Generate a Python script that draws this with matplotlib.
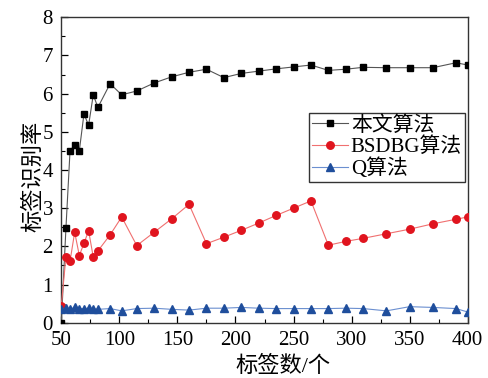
import matplotlib
matplotlib.use("Agg")
import matplotlib.pyplot as plt
from matplotlib.ticker import MultipleLocator

plt.rcParams['font.family'] = ['Liberation Serif', 'Noto Sans CJK SC']
plt.rcParams['mathtext.fontset'] = 'stix'

# Tag counts and identification rates for each algorithm
tags_ours = [50, 54, 57.5, 61.5, 65.5, 69.5, 73.5, 77.5, 81.5, 92, 102, 115, 130, 145,
             160, 175, 190, 205, 220, 235, 250, 265, 280, 295, 310, 330, 350, 370, 390, 400]
rate_ours = [0.0, 2.49, 4.50, 4.66, 4.50, 5.47, 5.17, 5.97, 5.64, 6.26, 5.97, 6.07, 6.28, 6.44,
             6.56, 6.64, 6.42, 6.53, 6.59, 6.65, 6.70, 6.75, 6.61, 6.64, 6.69, 6.68, 6.68, 6.68,
             6.81, 6.75]

tags_bsdbg = tags_ours
rate_bsdbg = [0.45, 1.73, 1.61, 2.37, 1.76, 2.08, 2.41, 1.72, 1.88, 2.30, 2.77, 2.02, 2.37, 2.72,
              3.10, 2.07, 2.24, 2.42, 2.61, 2.81, 3.00, 3.19, 2.03, 2.13, 2.21, 2.33, 2.45, 2.59,
              2.71, 2.77]

tags_q = tags_ours
rate_q = [0.36, 0.38, 0.35, 0.40, 0.37, 0.37, 0.38, 0.37, 0.35, 0.37, 0.31, 0.37, 0.38, 0.35,
          0.33, 0.38, 0.38, 0.40, 0.38, 0.37, 0.37, 0.37, 0.37, 0.38, 0.37, 0.31, 0.42, 0.40,
          0.37, 0.28]

series_names = ['本文算法', 'BSDBG算法', 'Q算法']

fig = plt.figure(figsize=(4.89, 3.78), dpi=100)
ax = fig.add_axes([0.1254, 0.1463, 0.8310, 0.8079])

ax.plot(tags_ours, rate_ours, color='#555555', lw=0.8, marker='s', ms=4.6,
        mfc='black', mec='black', label=series_names[0], zorder=3)
ax.plot(tags_bsdbg, rate_bsdbg, color='#f07070', lw=0.8, marker='o', ms=5.4,
        mfc='#e0141e', mec='#e0141e', label=series_names[1], zorder=3)
ax.plot(tags_q, rate_q, color='#6b8fd0', lw=0.8, marker='^', ms=5.6,
        mfc='#1f4e9c', mec='#1f4e9c', label=series_names[2], zorder=3)

ax.set_xlim(50, 400)
ax.set_ylim(0, 8)
ax.xaxis.set_major_locator(MultipleLocator(50))
ax.xaxis.set_minor_locator(MultipleLocator(25))
ax.yaxis.set_major_locator(MultipleLocator(1))
ax.yaxis.set_minor_locator(MultipleLocator(0.5))
ax.tick_params(which='both', direction='in', top=False, right=False, labelsize=15)
ax.tick_params(which='major', length=5, width=0.9)
ax.tick_params(which='minor', length=3, width=0.8)
ax.tick_params(axis='x', which='major', pad=6)
ax.tick_params(axis='y', which='major', pad=6)
for s in ax.spines.values():
    s.set_linewidth(1.0)
    s.set_color('#333333')

ax.set_xlabel('标签数/个', fontsize=16)
ax.xaxis.set_label_coords(0.545, -0.11, transform=ax.transAxes)
ax.xaxis.label.set_va('top')
ax.set_ylabel('标签识别率', fontsize=16, labelpad=-1)
ax.yaxis.label.set_y(0.479)

leg = ax.legend(loc='upper right', bbox_to_anchor=(0.994, 0.688), fontsize=15,
                frameon=True, fancybox=False, edgecolor='#333333', framealpha=1,
                handlelength=1.7, handletextpad=0.15, borderpad=0.15, labelspacing=0.08,
                borderaxespad=0.0)
leg.get_frame().set_linewidth(1.0)

fig.savefig('out.png', dpi=100)
